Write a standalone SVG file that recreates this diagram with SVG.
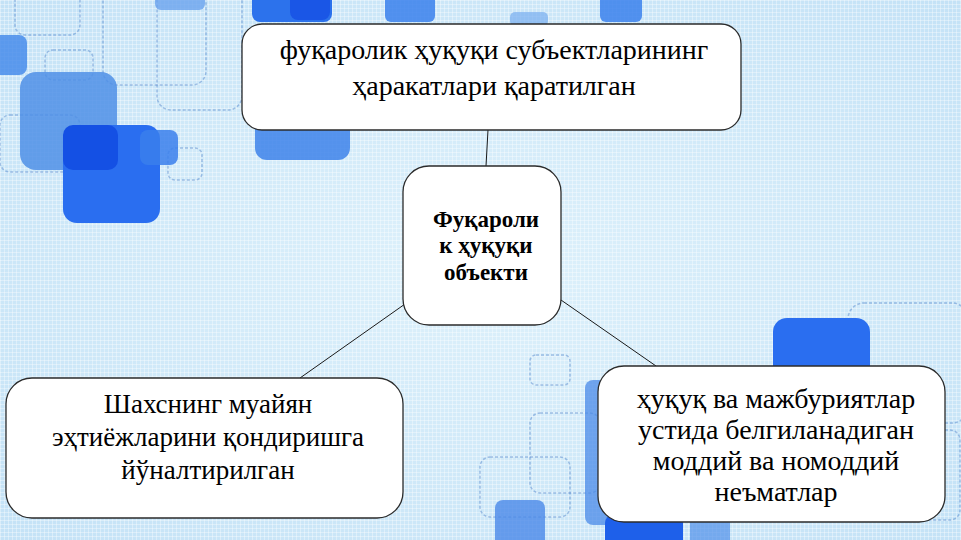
<svg xmlns="http://www.w3.org/2000/svg" width="961" height="540" viewBox="0 0 961 540">
<defs>
<radialGradient id="bg" cx="0.5" cy="0.5" r="0.75">
<stop offset="0" stop-color="#def1fb"/>
<stop offset="1" stop-color="#c2e1f6"/>
</radialGradient>
<pattern id="tex" width="4" height="4" patternUnits="userSpaceOnUse">
<path d="M0 0.5H4M0.5 0V4" stroke="#ffffff" stroke-opacity="0.35" stroke-width="1"/>
</pattern>
<style>
.node{fill:#ffffff;stroke:#2b2b2b;stroke-width:1.3}
.t{font-family:"Liberation Serif","Times New Roman",serif;font-size:28px;fill:#000;text-anchor:middle}
.tl{font-family:"Liberation Serif","Times New Roman",serif;font-size:27px;fill:#000;text-anchor:middle}
.tb{font-family:"Liberation Serif","Times New Roman",serif;font-size:23px;font-weight:bold;fill:#000;text-anchor:middle}
.conn{stroke:#1a1a1a;stroke-width:1;fill:none}
.ol{fill:none;stroke:#4a7fc8;stroke-opacity:0.45;stroke-width:1.5;stroke-dasharray:3 2}
</style>
</defs>
<g id="background">
<rect width="961" height="540" fill="url(#bg)"/>
<rect width="961" height="540" fill="url(#tex)"/>
<rect class="ol" x="15" y="-10" width="65" height="45" rx="10"/>
<rect class="ol" x="45" y="50" width="48" height="30" rx="8"/>
<rect class="ol" x="103" y="-20" width="103" height="105" rx="14"/>
<rect class="ol" x="157" y="-20" width="85" height="130" rx="14"/>
<rect class="ol" x="168" y="148" width="34" height="32" rx="7"/>
<rect class="ol" x="0" y="115" width="80" height="57" rx="10"/>
<rect x="-10" y="35" width="37" height="40" rx="8" fill="#3f86ea" opacity="0.8"/>
<rect x="20" y="72" width="97" height="98" rx="16" fill="#4f8fe6" opacity="0.85"/>
<rect x="63" y="125" width="97" height="98" rx="14" fill="#2a6ef0"/>
<rect x="63" y="125" width="55" height="45" rx="10" fill="#1450e4"/>
<rect x="140" y="130" width="38" height="35" rx="8" fill="#3a7fec" opacity="0.85"/>
<rect x="255" y="110" width="95" height="50" rx="12" fill="#3d83ea" opacity="0.85"/>
<rect x="155" y="-10" width="50" height="20" rx="6" fill="#6aa2ee" opacity="0.8"/>
<rect x="252" y="-10" width="80" height="32" rx="8" fill="#2c72ec"/>
<rect x="290" y="-10" width="40" height="30" rx="8" fill="#1a56e6"/>
<rect x="385" y="-10" width="50" height="32" rx="6" fill="#3a80ec" opacity="0.85"/>
<rect x="510" y="12" width="38" height="14" rx="5" fill="#78aef0" opacity="0.7"/>
<rect x="600" y="-10" width="42" height="32" rx="6" fill="#3a80ec" opacity="0.85"/>
<rect class="ol" x="848" y="303" width="120" height="120" rx="16"/>
<rect class="ol" x="530" y="355" width="40" height="30" rx="6"/>
<rect class="ol" x="530" y="413" width="70" height="80" rx="10"/>
<rect class="ol" x="480" y="457" width="90" height="60" rx="10"/>
<rect x="773" y="318" width="97" height="90" rx="14" fill="#2a6ef0"/>
<rect x="585" y="380" width="30" height="145" rx="8" fill="#4a8ae8" opacity="0.75"/>
<rect x="495" y="500" width="50" height="50" rx="8" fill="#4a88e8" opacity="0.8"/>
<rect x="605" y="515" width="78" height="40" rx="8" fill="#1e60ea"/>
<rect x="690" y="515" width="40" height="40" rx="8" fill="#5090ea" opacity="0.7"/>
<rect class="ol" x="900" y="430" width="60" height="90" rx="10"/>
</g>
<g id="connectors">
<line class="conn" x1="488" y1="130" x2="486" y2="166"/>
<line class="conn" x1="405" y1="304" x2="300" y2="378"/>
<line class="conn" x1="561" y1="300" x2="656" y2="366"/>
</g>
<g id="node-top">
<rect class="node" x="242" y="24" width="499" height="106" rx="20"/>
<text class="t" x="494" y="59">фуқаролик ҳуқуқи субъектларининг</text>
<text class="t" x="494" y="95">ҳаракатлари қаратилган</text>
</g>
<g id="node-center">
<rect class="node" x="403" y="166" width="158" height="159" rx="26"/>
<text class="tb" x="486" y="227">Фуқароли</text>
<text class="tb" x="486" y="253">к ҳуқуқи</text>
<text class="tb" x="486" y="280">объекти</text>
</g>
<g id="node-left">
<rect class="node" x="6" y="378" width="397" height="140" rx="26"/>
<text class="tl" x="208" y="413">Шахснинг муайян</text>
<text class="tl" x="208" y="446">эҳтиёжларини қондиришга</text>
<text class="tl" x="208" y="479">йўналтирилган</text>
</g>
<g id="node-right">
<rect class="node" x="598" y="366" width="347" height="156" rx="26"/>
<text class="t" x="776" y="408">ҳуқуқ ва мажбуриятлар</text>
<text class="t" x="776" y="439">устида белгиланадиган</text>
<text class="t" x="776" y="470">моддий ва номоддий</text>
<text class="t" x="776" y="501">неъматлар</text>
</g>
</svg>
